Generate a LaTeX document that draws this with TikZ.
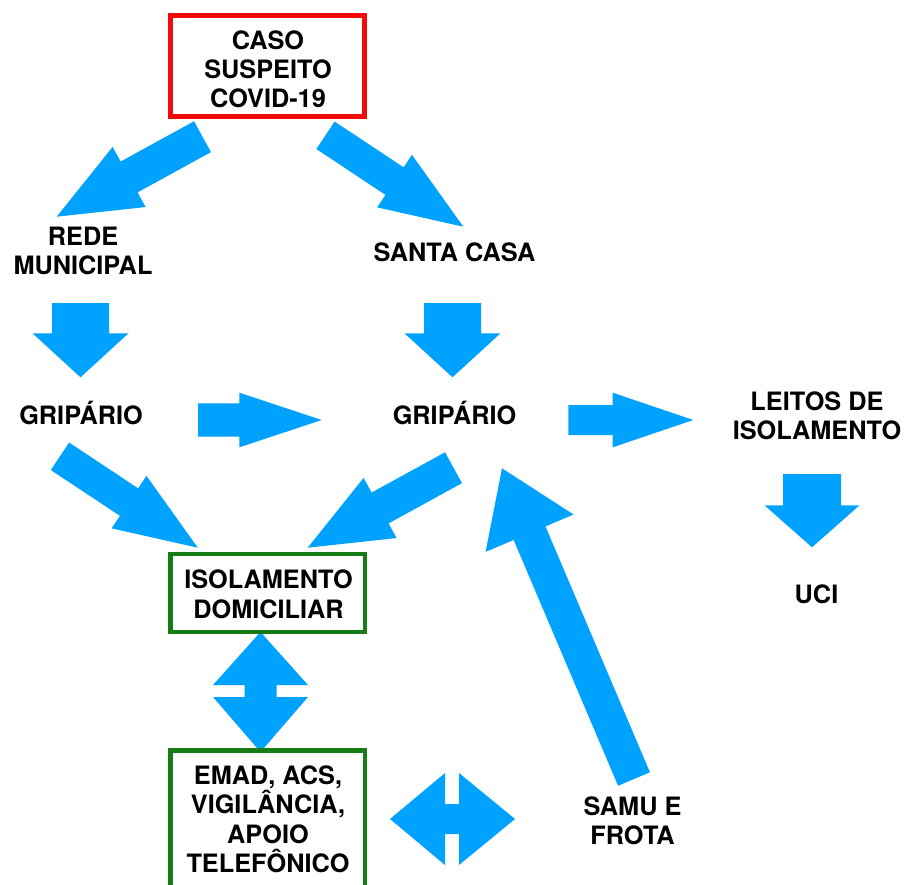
\documentclass[tikz,border=0pt]{standalone}
\usepackage{fontspec}
\setmainfont{TeX Gyre Heros}
\usetikzlibrary{calc}
\definecolor{arrowblue}{RGB}{0,162,255}
\definecolor{boxred}{RGB}{245,10,10}
\definecolor{boxgreen}{RGB}{22,124,22}
\newcommand\lblstrut{\rule{0pt}{24pt}}
% #1 tail, #2 tip, #3 half shaft width, #4 half head width, #5 head length
\newcommand\blockarrow[5]{%
  \coordinate (bab) at ($(#2)!#5!(#1)$);
  \fill[arrowfill] ($(#1)!#3!90:(#2)$) -- ($(bab)!#3!-90:(#1)$) -- ($(bab)!#4!-90:(#1)$)
    -- (#2) -- ($(bab)!#4!90:(#1)$) -- ($(bab)!#3!90:(#1)$) -- ($(#1)!#3!-90:(#2)$) -- cycle;}
\begin{document}
\begin{tikzpicture}[x=1pt,y=-1pt,
  lbl/.style={font=\fontsize{25.3}{29.2}\selectfont\bfseries, align=center, inner sep=0pt,
    execute at begin node=\lblstrut},
  redbox/.style={draw=boxred, line width=5pt, inner sep=0pt},
  greenbox/.style={draw=boxgreen, line width=4.5pt, inner sep=0pt},
  arrowfill/.style={fill=arrowblue}]
\useasboundingbox (0,0) rectangle (905,884);
\clip (0,0) rectangle (905,884);
\fill[white] (0,0) rectangle (905,884);

% arrow end points
\coordinate (a1t) at (202.5,136.7); \coordinate (a1p) at (56.7,216.7);
\coordinate (a2t) at (325.5,135.3); \coordinate (a2p) at (463.3,226.7);
\coordinate (a3t) at (80.5,303);    \coordinate (a3p) at (80.5,377.3);
\coordinate (a4t) at (452.5,303);   \coordinate (a4p) at (452.5,377.3);
\coordinate (a5t) at (198,420);     \coordinate (a5p) at (321.7,420);
\coordinate (a6t) at (568.3,420);   \coordinate (a6p) at (693.3,420);
\coordinate (a7t) at (812,474);     \coordinate (a7p) at (812,547.3);
\coordinate (a8t) at (60,456.3);    \coordinate (a8p) at (197.8,547.7);
\coordinate (a9t) at (453.5,467.7); \coordinate (a9p) at (307.7,547.7);
\coordinate (a10t) at (634,779);    \coordinate (a10p) at (502,468.3);

\blockarrow{a1t}{a1p}{17.6pt}{34.3pt}{82.6pt}
\blockarrow{a2t}{a2p}{16.5pt}{31.5pt}{82.5pt}
\blockarrow{a3t}{a3p}{28.5pt}{48pt}{44pt}
\blockarrow{a4t}{a4p}{28.5pt}{48pt}{44pt}
\blockarrow{a5t}{a5p}{16.7pt}{27.3pt}{82.4pt}
\blockarrow{a6t}{a6p}{15pt}{27.3pt}{80.6pt}
\blockarrow{a7t}{a7p}{29pt}{47.5pt}{42pt}
\blockarrow{a8t}{a8p}{16.5pt}{31.5pt}{82.5pt}
\blockarrow{a9t}{a9p}{17.6pt}{34.3pt}{82.6pt}
\blockarrow{a10t}{a10p}{17.3pt}{47.8pt}{70.5pt}

% double arrows
\fill[arrowfill] (260.5,632) -- (308,685) -- (276.5,685) -- (276.5,697) -- (308,697)
  -- (260.5,752) -- (213,697) -- (244.5,697) -- (244.5,685) -- (213,685) -- cycle;
\fill[arrowfill] (390,819) -- (445,773) -- (445,804) -- (459,804) -- (459,773)
  -- (515,819) -- (459,865) -- (459,834) -- (445,834) -- (445,865) -- cycle;

% boxes
\node[redbox, minimum width=194pt, minimum height=101.3pt] (casobox) at (267.5,65.85) {};
\node[greenbox, minimum width=194.5pt, minimum height=77.8pt] (isolbox) at (267.5,592.85) {};
\node[greenbox, minimum width=194.5pt, minimum height=160pt] (emadbox) at (267.5,830.25) {};

% labels
\node[lbl] (caso) at (268,69.5) {CASO\\SUSPEITO\\COVID-19};
\node[lbl] (rede) at (83,251) {REDE\\MUNICIPAL};
\node[lbl] (santa) at (454.5,249.5) {SANTA CASA};
\node[lbl] (grip1) at (81,413) {GRIPÁRIO};
\node[lbl] (grip2) at (454.5,413) {GRIPÁRIO};
\node[lbl] (leitos) at (817,415.5) {LEITOS DE\\ISOLAMENTO};
\node[lbl] (uci) at (816.5,591.8) {UCI};
\node[lbl] (isol) at (268.5,594.3) {ISOLAMENTO\\DOMICILIAR};
\node[lbl] (emad) at (268,819.2) {EMAD, ACS,\\VIGILÂNCIA,\\APOIO\\TELEFÔNICO};
\node[lbl] (samu) at (632.5,820.5) {SAMU E\\FROTA};
\end{tikzpicture}
\end{document}
